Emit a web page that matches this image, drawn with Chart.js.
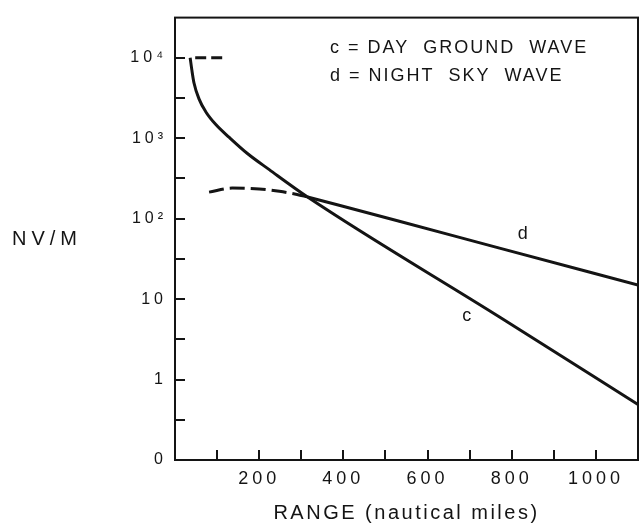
<!DOCTYPE html>
<html>
<head>
<meta charset="utf-8">
<script src="https://cdn.jsdelivr.net/npm/chart.js@4.4.1/dist/chart.umd.min.js"></script>
<style>
  html, body { margin: 0; padding: 0; background: #fff; }
  #wrap { position: relative; width: 641px; height: 527px; }
</style>
</head>
<body>
<div id="wrap"><canvas id="field-chart"></canvas></div>
<script>
// Curve c: day ground wave (NV/M against range in nautical miles)
const groundRange = [36, 40, 45, 57, 73, 97, 129, 172, 224, 315, 771, 1100];
const groundField = [10000, 7080, 4900, 3090, 2140, 1480, 1023, 646, 407, 186, 6.0, 0.49];

// Curve d: night sky wave, dashed near the station then solid
const skyDashRange = [81, 136, 200, 248, 290, 315];
const skyDashField = [214, 240, 234, 219, 200, 186];
const skyRange = [315, 533, 771, 1100];
const skyField = [186, 93, 43, 15];

// short dashed mark at 10^4
const topDashRange = [48, 117];
const topDashField = [10000, 10000];

// axes
const xLabelValues = [200, 400, 600, 800, 1000];
const xTickMarks = [100, 200, 300, 400, 500, 600, 700, 800, 900, 1000];
const yMajorTicks = [0.1, 1, 10, 100, 1000, 10000];
const yMajorLabels = ['0', '1', '10', '10²', '10³', '10⁴'];
const yMinorTicks = [0.316, 3.16, 31.6, 316, 3162];

// curve labels, anchored in data units
const curveLabels = ['c', 'd'];
const curveLabelRange = [693, 826];
const curveLabelField = [6.2, 65];

const legendLines = ['c = DAY  GROUND  WAVE', 'd = NIGHT  SKY  WAVE'];

const INK = '#141414';
const FONT = '"Liberation Sans", "DejaVu Sans", sans-serif';

function toPoints(xs, ys) {
  return xs.map((x, i) => ({ x: x, y: ys[i] }));
}

// Frame, inward tick marks and free text
const framePlugin = {
  id: 'frame',
  beforeDraw(chart) {
    chart.ctx.letterSpacing = '4px';
  },
  afterDraw(chart) {
    const { ctx, chartArea: a, scales } = chart;
    const x = scales.x;
    const y = scales.y;
    ctx.save();
    ctx.letterSpacing = '0px';
    ctx.strokeStyle = INK;
    ctx.lineWidth = 2;
    ctx.strokeRect(a.left, a.top, a.right - a.left, a.bottom - a.top);

    ctx.beginPath();
    xTickMarks.forEach((v) => {
      const px = Math.round(x.getPixelForValue(v));
      ctx.moveTo(px, a.bottom);
      ctx.lineTo(px, a.bottom - 10);
    });
    yMajorTicks.concat(yMinorTicks).forEach((v) => {
      const py = Math.round(y.getPixelForValue(v));
      ctx.moveTo(a.left, py);
      ctx.lineTo(a.left + 10, py);
    });
    ctx.stroke();

    ctx.fillStyle = INK;
    ctx.textBaseline = 'alphabetic';

    // y title, written horizontally
    ctx.font = '20px ' + FONT;
    ctx.letterSpacing = '5px';
    ctx.textAlign = 'left';
    ctx.fillText('NV/M', 12, 245);

    // x title
    ctx.letterSpacing = '2.5px';
    ctx.textAlign = 'center';
    ctx.fillText('RANGE (nautical miles)', (a.left + a.right) / 2, 519);

    // legend
    ctx.font = '18px ' + FONT;
    ctx.letterSpacing = '2px';
    ctx.textAlign = 'left';
    ctx.fillText(legendLines[0], 330, 53);
    ctx.fillText(legendLines[1], 330, 81);

    // curve labels
    ctx.letterSpacing = '0px';
    ctx.textAlign = 'center';
    ctx.textBaseline = 'middle';
    curveLabels.forEach((t, i) => {
      ctx.fillText(t, x.getPixelForValue(curveLabelRange[i]), y.getPixelForValue(curveLabelField[i]));
    });

    ctx.restore();
    ctx.letterSpacing = '0px';
  },
};

const lineStyle = {
  borderColor: INK,
  borderWidth: 3,
  pointRadius: 0,
  fill: false,
  cubicInterpolationMode: 'monotone',
};

new Chart(document.getElementById('field-chart'), {
  type: 'line',
  data: {
    datasets: [
      { ...lineStyle, label: 'c = DAY GROUND WAVE', data: toPoints(groundRange, groundField) },
      { ...lineStyle, label: 'd (near)', data: toPoints(skyDashRange, skyDashField), borderDash: [15, 6] },
      { ...lineStyle, label: 'd = NIGHT SKY WAVE', data: toPoints(skyRange, skyField) },
      { ...lineStyle, label: '10^4 mark', data: toPoints(topDashRange, topDashField), borderDash: [11, 5] },
    ],
  },
  options: {
    responsive: true,
    maintainAspectRatio: false,
    animation: false,
    layout: { padding: { top: 6, right: 3, left: 0, bottom: 0 } },
    plugins: {
      legend: { display: false },
      tooltip: { enabled: false },
    },
    scales: {
      x: {
        type: 'linear',
        min: 0,
        max: 1100,
        grid: { display: false, drawTicks: false },
        border: { display: false },
        afterFit: (s) => { s.height = 67; },
        afterBuildTicks: (s) => { s.ticks = xLabelValues.map((v) => ({ value: v })); },
        ticks: {
          autoSkip: false,
          maxRotation: 0,
          padding: 8,
          color: INK,
          font: { family: FONT, size: 18 },
          callback: (value) => String(value),
        },
      },
      y: {
        type: 'logarithmic',
        min: 0.1,
        max: 31623,
        grid: { display: false, drawTicks: false },
        border: { display: false },
        afterFit: (s) => { s.width = 175; },
        afterBuildTicks: (s) => { s.ticks = yMajorTicks.map((v) => ({ value: v })); },
        ticks: {
          autoSkip: false,
          padding: 8,
          color: INK,
          font: { family: FONT, size: 16 },
          callback: (value, index) => yMajorLabels[index],
        },
      },
    },
  },
  plugins: [framePlugin],
});
</script>
</body>
</html>
